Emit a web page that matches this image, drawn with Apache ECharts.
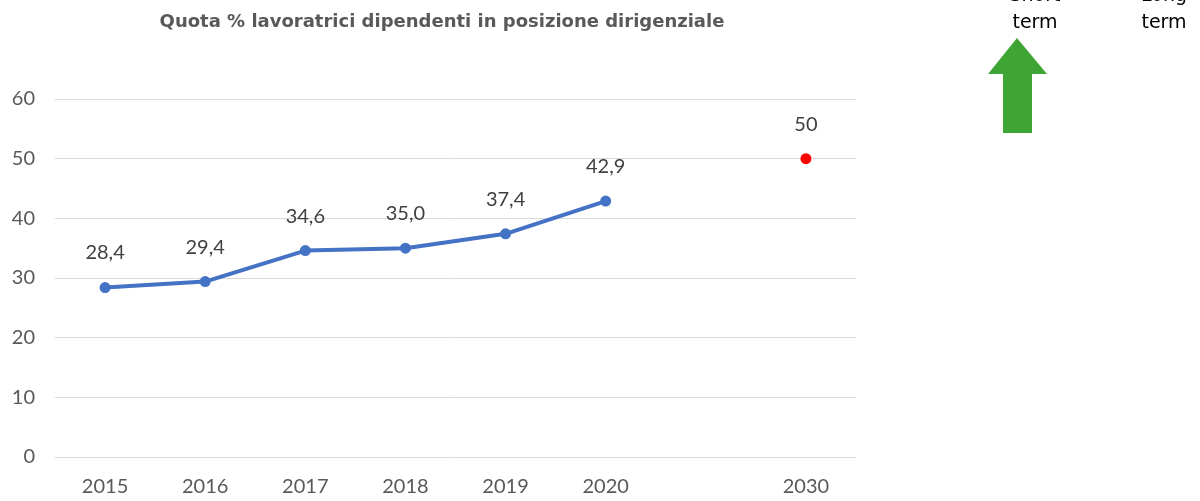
<!DOCTYPE html>
<html>
<head>
<meta charset="utf-8">
<script src="https://cdn.jsdelivr.net/npm/echarts@6/dist/echarts.min.js"></script>
<style>
  html, body { margin: 0; padding: 0; background: #fff; }
  #chart { width: 1200px; height: 501px; }
</style>
</head>
<body>
<div id="chart"></div>
<script>
const years = ['2015', '2016', '2017', '2018', '2019', '2020', '', '2030']
const quotaValues = [28.4, 29.4, 34.6, 35.0, 37.4, 42.9, null, null]
const targetValues = [null, null, null, null, null, null, null, 50]
const yTicks = { min: 0, max: 60, interval: 10 }

const chart = echarts.init(document.getElementById('chart'))

// quota shown with one decimal and an Italian comma, target as a whole number
const fmtQuota = p => p.value.toFixed(1).replace('.', ',')
const fmtTarget = p => String(p.value)

const labelStyle = {
  show: true,
  position: 'top',
  distance: 19,
  color: '#404040',
  fontSize: 20,
  fontFamily: 'Lato'
}

const option = {
  animation: false,
  title: {
    text: 'Quota % lavoratrici dipendenti in posizione dirigenziale',
    left: 437,
    textAlign: 'center',
    top: 8,
    textStyle: {
      fontFamily: 'DejaVu Sans',
      fontSize: 18,
      fontWeight: 'bold',
      color: '#595959'
    }
  },
  grid: { left: 55, right: 344, top: 99, bottom: 44 },
  xAxis: {
    type: 'category',
    data: years,
    boundaryGap: true,
    axisLine: { lineStyle: { color: '#d9d9d9', width: 1 } },
    axisTick: { show: false },
    axisLabel: { color: '#595959', fontSize: 20, fontFamily: 'Lato', margin: 20 }
  },
  yAxis: {
    type: 'value',
    min: yTicks.min,
    max: yTicks.max,
    interval: yTicks.interval,
    axisLine: { show: false },
    axisTick: { show: false },
    splitLine: { lineStyle: { color: '#d9d9d9', width: 1 } },
    axisLabel: { color: '#595959', fontSize: 20, fontFamily: 'Lato', margin: 20 }
  },
  series: [
    {
      type: 'line',
      data: quotaValues,
      symbol: 'circle',
      symbolSize: 11,
      lineStyle: { color: '#4472c4', width: 4 },
      itemStyle: { color: '#4472c4' },
      label: { ...labelStyle, formatter: fmtQuota }
    },
    {
      type: 'line',
      data: targetValues,
      symbol: 'circle',
      symbolSize: 11,
      lineStyle: { width: 0 },
      itemStyle: { color: '#ff0000' },
      label: { ...labelStyle, formatter: fmtTarget }
    }
  ],
  graphic: [
    { type: 'text', x: 1035, y: -4, style: { text: 'Short', fill: '#000', font: '19px DejaVu Sans', align: 'center', verticalAlign: 'middle' } },
    { type: 'text', x: 1035, y: 23, style: { text: 'term', fill: '#000', font: '19px DejaVu Sans', align: 'center', verticalAlign: 'middle' } },
    { type: 'text', x: 1164, y: -4, style: { text: 'Long', fill: '#000', font: '19px DejaVu Sans', align: 'center', verticalAlign: 'middle' } },
    { type: 'text', x: 1164, y: 23, style: { text: 'term', fill: '#000', font: '19px DejaVu Sans', align: 'center', verticalAlign: 'middle' } },
    {
      type: 'polygon',
      shape: {
        points: [[1017, 38], [1047, 74], [1032, 74], [1032, 133], [1003, 133], [1003, 74], [988, 74]]
      },
      style: { fill: '#3ea535' }
    }
  ]
}

chart.setOption(option)
</script>
</body>
</html>
